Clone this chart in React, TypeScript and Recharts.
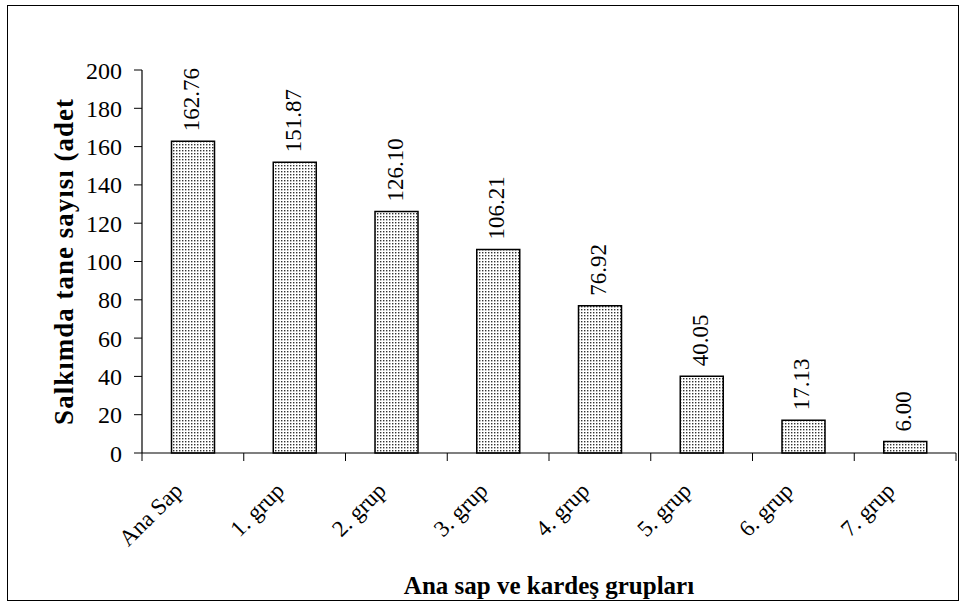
import { BarChart, Bar, XAxis, YAxis, LabelList } from "recharts";

// Salkımda tane sayısı by stem group
const GROUPS = ["Ana Sap", "1. grup", "2. grup", "3. grup", "4. grup", "5. grup", "6. grup", "7. grup"];
const COUNTS = [162.76, 151.87, 126.1, 106.21, 76.92, 40.05, 17.13, 6.0];
const Y_TICKS = [0, 20, 40, 60, 80, 100, 120, 140, 160, 180, 200];

const data = GROUPS.map((g, i) => ({ group: g, count: COUNTS[i] }));

const FONT = "'Liberation Serif', 'Times New Roman', serif";

// category label plus tick marks on the band boundaries (Excel style)
const CategoryTick = (props: any) => {
  const { x, y, payload, index, visibleTicksCount } = props;
  const half = payload.offset || 0;
  const ax = x - 9;
  const ay = y + 31;
  const top = y - 8; // y is axis line + tickSize + tickMargin
  return (
    <g>
      <line x1={x - half} x2={x - half} y1={top} y2={top + 8} stroke="#000" />
      {index === visibleTicksCount - 1 && (
        <line x1={x + half} x2={x + half} y1={top} y2={top + 8} stroke="#000" />
      )}
      <text x={ax} y={ay} transform={`rotate(-45, ${ax}, ${ay})`} textAnchor="end"
        fontFamily={FONT} fontSize={23} fill="#000">
        {payload.value}
      </text>
    </g>
  );
};

const ValueLabel = (props: any) => {
  const { x, y, width, value } = props;
  const cx = x + width / 2 + 6;
  const cy = y - 10;
  return (
    <text x={cx} y={cy} transform={`rotate(-90, ${cx}, ${cy})`} textAnchor="start"
      fontFamily={FONT} fontSize={23} fill="#000">
      {Number(value).toFixed(2)}
    </text>
  );
};

export default function App() {
  return (
    <div style={{ position: "absolute", left: 7, top: 5, width: 950, height: 594, border: "1px solid #000", background: "#fff" }}>
      <BarChart width={950} height={594} data={data} barCategoryGap="29%"
        margin={{ top: 64, right: 2, bottom: 0, left: 0 }}>
        <defs>
          <pattern id="dots" width="3" height="3" patternUnits="userSpaceOnUse">
            <rect width="3" height="3" fill="#fff" />
            <rect width="1.4" height="1.4" fill="#333" />
          </pattern>
        </defs>
        <XAxis dataKey="group" height={147} interval={0}
          axisLine={{ stroke: "#000", strokeWidth: 1.2 }} tickLine={false} tick={<CategoryTick />}
          label={{ value: "Ana sap ve kardeş grupları", position: "insideBottom", offset: 6,
            style: { fontFamily: FONT, fontSize: 25, fontWeight: "bold", fill: "#000" } }} />
        <YAxis domain={[0, 200]} ticks={Y_TICKS} width={134} interval={0}
          axisLine={{ stroke: "#000", strokeWidth: 1.2 }} tickLine={{ stroke: "#000" }} tickSize={8} tickMargin={12}
          tick={{ fontFamily: FONT, fontSize: 24, fill: "#000" }}
          label={{ value: "Salkımda tane sayısı (adet", angle: -90, position: "center", dx: -12,
            style: { fontFamily: FONT, fontSize: 27, fontWeight: "bold", fill: "#000", letterSpacing: 1 } }} />
        <Bar dataKey="count" fill="url(#dots)" stroke="#000" strokeWidth={1.5} isAnimationActive={false}>
          <LabelList dataKey="count" content={<ValueLabel />} />
        </Bar>
      </BarChart>
    </div>
  );
}
